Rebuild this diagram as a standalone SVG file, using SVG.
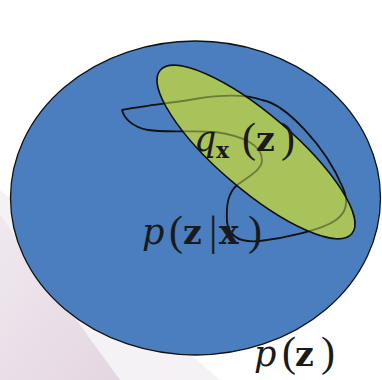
<svg xmlns="http://www.w3.org/2000/svg" width="382" height="380" viewBox="0 0 382 380">
<defs>
<style>
.lbl{font-family:"DejaVu Serif","Liberation Serif",serif;font-size:35px;fill:#1a1a1a}
.it{font-style:italic}
.bf{font-weight:bold;font-size:33px}
.pr{font-family:"Liberation Serif",serif;font-size:42px;font-weight:normal}
.sub{font-weight:bold;font-size:22px}
.curve{fill:none;stroke:#111;stroke-width:1.8;stroke-linejoin:round}
</style>
<linearGradient id="bg1" x1="0" y1="0" x2="1" y2="1">
<stop offset="0" stop-color="#eee6ee"/>
<stop offset="1" stop-color="#e0cfdc"/>
</linearGradient>
</defs>
<rect width="382" height="380" fill="#ffffff"/>
<polygon points="0,190 0,380 220,380" fill="#f5f2f6"/>
<polygon points="0,215 0,380 120,380" fill="url(#bg1)" opacity="0.8"/>
<g id="p-z">
<ellipse cx="195.5" cy="198" rx="185" ry="157" fill="#4a7ebf" stroke="#111" stroke-width="1.3"/>
<text class="lbl" y="366"><tspan class="it" x="254">p</tspan><tspan class="pr" x="282">(</tspan><tspan class="bf" x="295">z</tspan><tspan class="pr" x="321">)</tspan></text>
</g>
<g id="q-x-z-fill">
<ellipse cx="256" cy="152" rx="126" ry="38" transform="rotate(40.5 256 152)" fill="#a8c35a"/>
</g>
<g id="connectors">
<path id="p-z-given-x-curve" class="curve" d="M122,110 C140,106 165,104 195,99 C220,95 245,94 262,100 C285,104 325,145 343,188 C349,202 347,212 336,220 C322,230 285,238 260,241 C240,243 229,236 227,222 C226,205 228,193 237,185 C248,177 262,170 262,160 C262,146 245,136 215,132 C195,130 165,133 148,130 C132,127 124,118 122,110 Z"/>
</g>
<g id="q-x-z">
<ellipse cx="256" cy="152" rx="126" ry="38" transform="rotate(40.5 256 152)" fill="#a8c35a" fill-opacity="0.6" stroke="#111" stroke-width="1.5"/>
<text class="lbl" y="151"><tspan class="it" x="194">q</tspan><tspan class="sub" x="216" y="158">x</tspan><tspan class="pr" x="242" y="152">(</tspan><tspan class="bf" x="256" y="151">z</tspan><tspan class="pr" x="281" y="152">)</tspan></text>
</g>
<g id="p-z-given-x">
<text class="lbl" y="244"><tspan class="it" x="142">p</tspan><tspan class="pr" x="169" y="245">(</tspan><tspan class="bf" x="183" y="244">z</tspan><tspan class="pr" x="209" y="245">|</tspan><tspan class="bf" x="219" y="244">x</tspan><tspan class="pr" x="248" y="245">)</tspan></text>
</g>
</svg>
